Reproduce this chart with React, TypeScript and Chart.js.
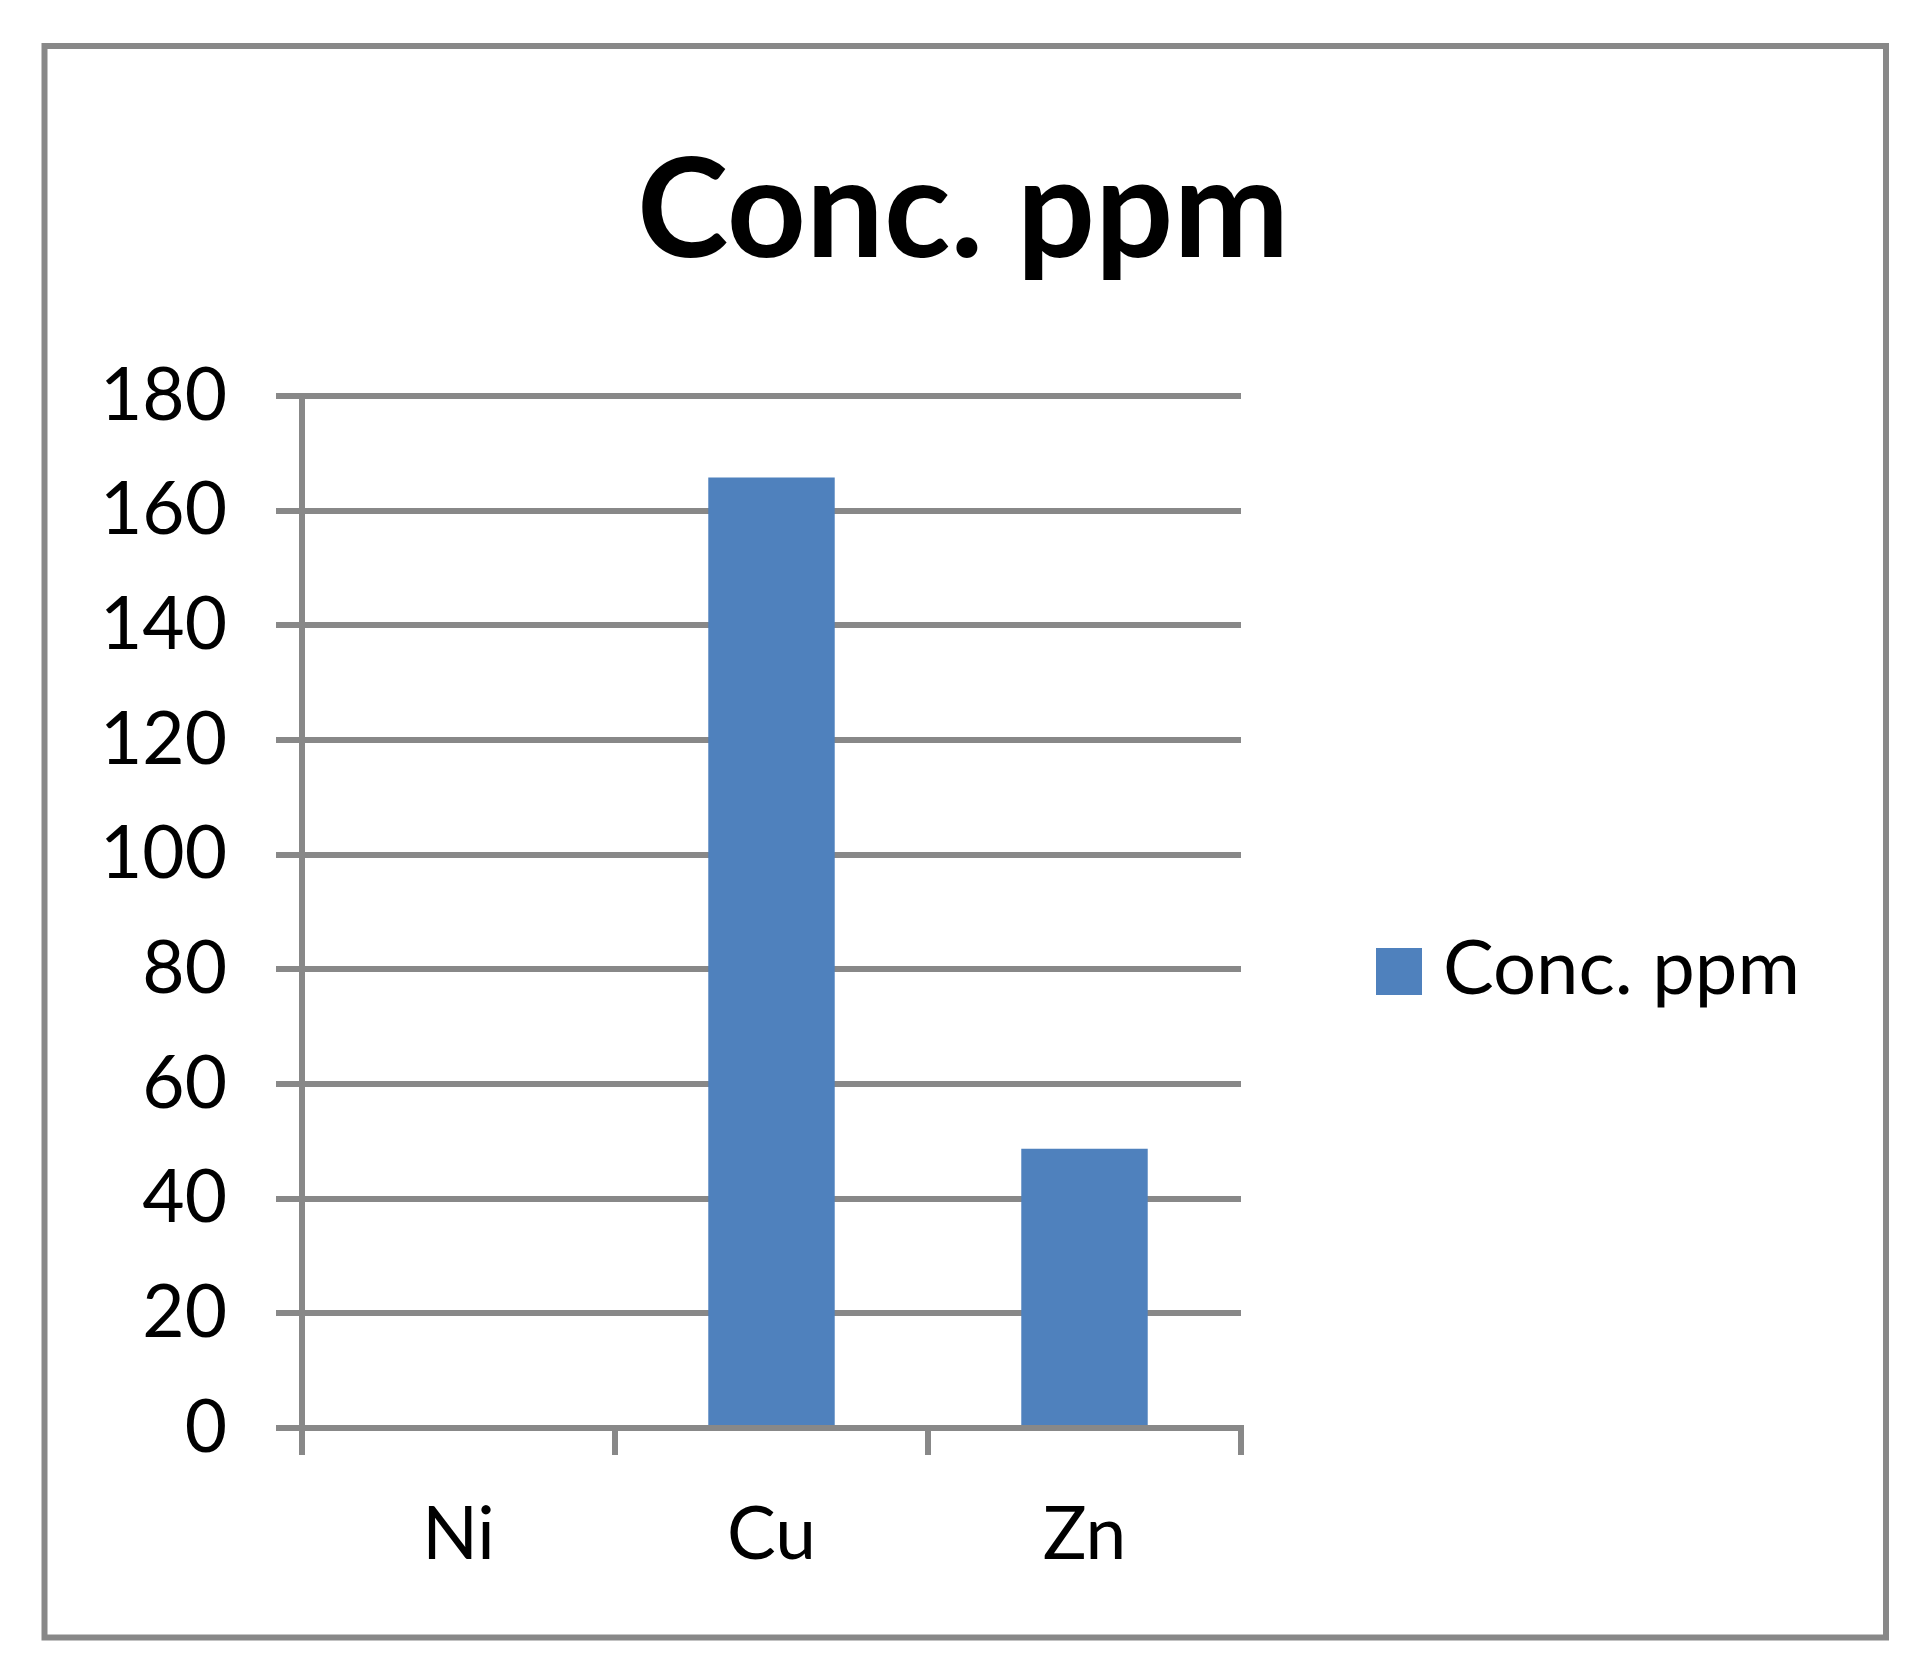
import React, { useEffect, useRef } from 'react';
import { Chart, registerables } from 'chart.js';

Chart.register(...registerables);

const categories: string[] = ['Ni', 'Cu', 'Zn'];
const concValues: number[] = [0, 165.8, 48.7];
const seriesLabel = 'Conc. ppm';
const chartTitle = 'Conc. ppm';
const yMin = 0;
const yMax = 180;
const yStep = 20;

const GRAY = '#888888';
const BAR_BLUE = '#4F81BD';
const FONT = 'Lato';
const TITLE_SIZE = 138;

const framePlugin = {
  id: 'frameAndLegend',
  afterDraw(chart: any) {
    const ctx = chart.ctx as CanvasRenderingContext2D;
    ctx.save();
    ctx.strokeStyle = GRAY;
    ctx.lineWidth = 6;
    ctx.strokeRect(44.5, 46, 1841.5, 1591.5);
    const ds = chart.data.datasets[0];
    ctx.fillStyle = ds.backgroundColor;
    ctx.fillRect(1376, 948, 46, 47);
    ctx.fillStyle = '#000000';
    ctx.font = `76px ${FONT}`;
    ctx.textBaseline = 'middle';
    ctx.textAlign = 'left';
    ctx.fillText(ds.label, 1443, 969);
    ctx.restore();
  },
};

export default function App() {
  const canvasRef = useRef<HTMLCanvasElement | null>(null);

  useEffect(() => {
    let chart: Chart | null = null;
    let cancelled = false;
    const make = () => {
      if (cancelled || !canvasRef.current) return;
      chart = new Chart(canvasRef.current, {
        type: 'bar',
        data: {
          labels: categories,
          datasets: [
            {
              label: seriesLabel,
              data: concValues,
              backgroundColor: BAR_BLUE,
              borderWidth: 0,
              barPercentage: 0.404,
              categoryPercentage: 1,
              yAxisID: 'y',
            },
          ],
        },
        options: {
          responsive: false,
          animation: false,
          layout: { padding: { left: 0, right: 0, top: 0, bottom: 0 } },
          plugins: {
            legend: { display: false },
            tooltip: { enabled: false },
            title: {
              display: true,
              text: chartTitle,
              color: '#000000',
              font: { family: FONT, size: TITLE_SIZE, weight: 'bold', lineHeight: 1.2 },
              padding: { top: 130, bottom: 396 - 130 - TITLE_SIZE * 1.2 },
            },
          },
          scales: {
            x: {
              grid: {
                display: true,
                drawOnChartArea: false,
                drawTicks: true,
                tickLength: 27,
                color: GRAY,
                lineWidth: 6,
                offset: true,
              },
              border: { display: true, color: GRAY, width: 6 },
              ticks: { color: '#000000', font: { family: FONT, size: 73 }, padding: 37 },
              afterFit: (s: any) => {
                s.height = 247;
              },
            },
            y: {
              position: 'left',
              min: yMin,
              max: yMax,
              ticks: {
                stepSize: yStep,
                color: '#000000',
                font: { family: FONT, size: 73 },
                padding: 49,
              },
              grid: { color: GRAY, lineWidth: 6, tickLength: 26, drawTicks: true },
              border: { display: true, color: GRAY, width: 6 },
              afterFit: (s: any) => {
                s.width = 302;
              },
            },
            legendSpace: {
              type: 'linear',
              position: 'right',
              display: true,
              min: yMin,
              max: yMax,
              grid: { display: false, drawTicks: false },
              border: { display: false },
              ticks: { display: false },
              afterFit: (s: any) => {
                s.width = 685;
              },
            },
          },
        },
        plugins: [framePlugin],
      });
    };
    const fontsReady = (document as any).fonts
      ? Promise.all([
          (document as any).fonts.load(`bold ${TITLE_SIZE}px ${FONT}`),
          (document as any).fonts.load(`73px ${FONT}`),
        ]).catch(() => null)
      : Promise.resolve(null);
    fontsReady.then(make);
    return () => {
      cancelled = true;
      if (chart) chart.destroy();
    };
  }, []);

  return (
    <div style={{ position: 'absolute', left: 0, top: 0, width: 1926, height: 1675, background: '#ffffff' }}>
      <canvas ref={canvasRef} width={1926} height={1675} style={{ display: 'block' }} />
    </div>
  );
}
